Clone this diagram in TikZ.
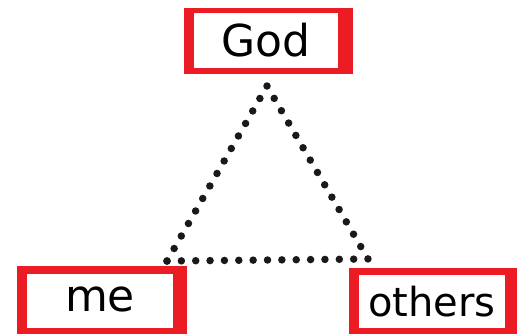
\documentclass[tikz,border=0pt]{standalone}
\usepackage{fontspec}
\setmainfont{DejaVu Sans}
\usetikzlibrary{calc,backgrounds}
\definecolor{boxred}{RGB}{236,28,36}
\begin{document}
\begin{tikzpicture}[x=1pt,y=-1pt,
  namebox/.style={fill=white, inner sep=0pt,
    font=\fontsize{44}{46}\selectfont, text=black},
  dotline/.style={line width=7.5pt, line cap=round, draw=black!90}]
\useasboundingbox (0,0) rectangle (522,333);
\node[namebox, minimum width=144pt, minimum height=55pt] (god) at (266,40.5) {\raisebox{2pt}{God}};
\node[namebox, minimum width=146pt, minimum height=54pt] (me) at (100,301) {\raisebox{3pt}{me}};
\node[namebox, minimum width=146pt, minimum height=53pt, font=\fontsize{40}{42}\selectfont] (others) at (432,301.5) {\raisebox{1pt}{others}};
\begin{scope}[on background layer]
\fill[boxred] ($(god.north west)+(-10,-5)$) rectangle ($(god.south east)+(15,6)$);
\fill[boxred] ($(me.north west)+(-10,-8)$) rectangle ($(me.south east)+(14,12)$);
\fill[boxred] ($(others.north west)+(-10,-7)$) rectangle ($(others.south east)+(12,12)$);
\end{scope}
\coordinate (top) at (267,86);
\coordinate (bl) at (167,261);
\coordinate (br) at (368,259);
\draw[dotline, dash pattern=on 0pt off 14.4pt] (bl) -- (top);
\draw[dotline, dash pattern=on 0pt off 14.3pt] (top) -- (br);
\draw[dotline, dash pattern=on 0pt off 14.36pt] (bl) -- (br);
\end{tikzpicture}
\end{document}
